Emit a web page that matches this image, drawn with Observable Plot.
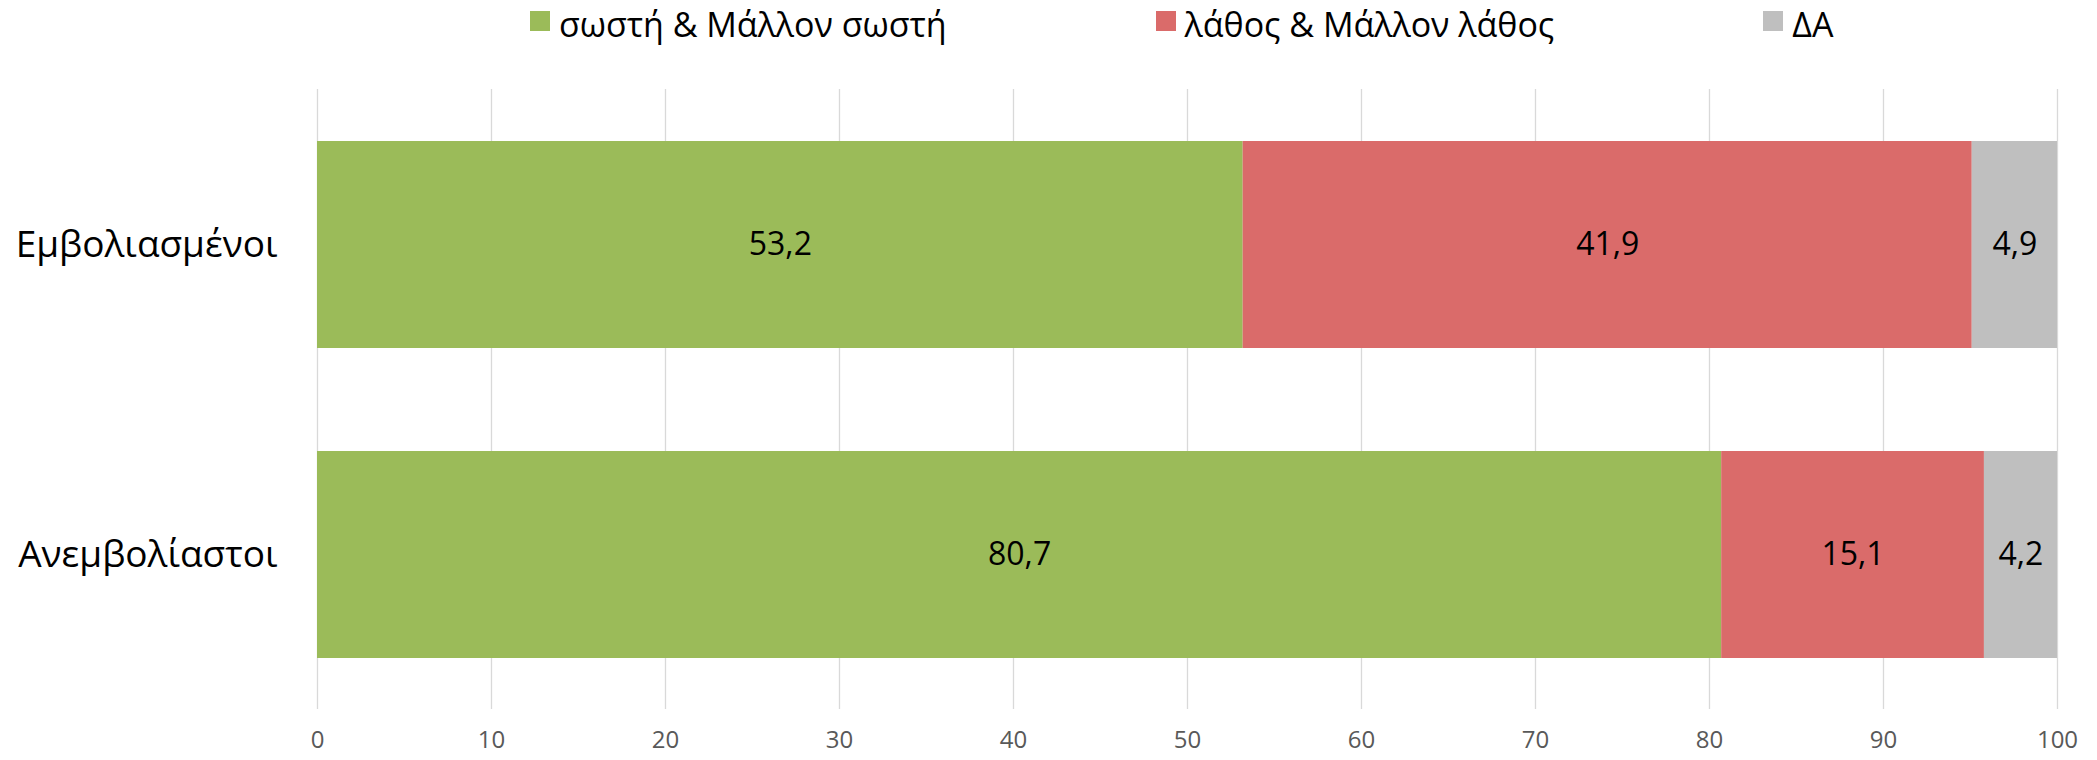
<!DOCTYPE html>
<html>
<head>
<meta charset="utf-8">
<script src="https://cdn.jsdelivr.net/npm/d3@7"></script>
<script src="https://cdn.jsdelivr.net/npm/@observablehq/plot@0.6"></script>
<style>
  html, body { margin: 0; padding: 0; background: #fff; }
  #wrap { position: relative; width: 2097px; height: 760px; font-family: "Open Sans", sans-serif; }
  #legend { position: absolute; left: 530px; top: 0; display: flex; gap: 209px; }
  .item { display: flex; align-items: flex-start; }
  .sw { width: 20px; height: 20px; margin-top: 11px; margin-right: 9px; }
  .lab { font-size: 34px; line-height: 34px; margin-top: 7px; color: #000; white-space: nowrap; }
  #chart { position: absolute; left: 0; top: 0; }
</style>
</head>
<body>
<div id="wrap">
  <div id="chart"></div>
  <div id="legend"></div>
</div>
<script>
const categories = ["Εμβολιασμένοι", "Ανεμβολίαστοι"];
const series = ["σωστή & Μάλλον σωστή", "λάθος & Μάλλον λάθος", "ΔΑ"];
const colors = ["#9BBB59", "#DA6B6A", "#BFBFBF"];
const correctValues = [53.2, 80.7];
const wrongValues = [41.9, 15.1];
const dkValues = [4.9, 4.2];
const xTicks = [0, 10, 20, 30, 40, 50, 60, 70, 80, 90, 100];

const seriesValues = [correctValues, wrongValues, dkValues];
const data = [];
categories.forEach((c, i) => {
  series.forEach((s, j) => {
    data.push({category: c, series: s, value: seriesValues[j][i]});
  });
});

const fmt = v => v.toFixed(1).replace(".", ",");

const chart = Plot.plot({
  width: 2097,
  height: 760,
  marginLeft: 317,
  marginRight: 40,
  marginTop: 89,
  marginBottom: 51,
  style: {fontFamily: "'Open Sans', sans-serif", background: "#fff"},
  x: {domain: [0, 100], axis: null},
  y: {domain: categories, paddingInner: 1/3, paddingOuter: 1/6, axis: null},
  color: {domain: series, range: colors},
  marks: [
    Plot.gridX(xTicks, {stroke: "#d9d9d9", strokeOpacity: 1, strokeWidth: 1.3}),
    Plot.barX(data, Plot.stackX({x: "value", y: "category", fill: "series", order: null})),
    Plot.text(data, Plot.stackX({x: "value", y: "category", z: "series", order: null, text: d => fmt(d.value), fontSize: 32, fill: "#000"})),
    Plot.axisX(xTicks, {tickSize: 0, tickPadding: 21, fontSize: 24, fill: "#595959", tickFormat: d => String(d), label: null}),
    Plot.axisY(categories, {tickSize: 0, tickPadding: 40, fontSize: 37, fill: "#000", label: null})
  ]
});
document.getElementById("chart").appendChild(chart);

const legend = document.getElementById("legend");
series.forEach((s, j) => {
  const item = document.createElement("div");
  item.className = "item";
  const sw = document.createElement("div");
  sw.className = "sw";
  sw.style.background = colors[j];
  const lab = document.createElement("div");
  lab.className = "lab";
  lab.textContent = s;
  item.appendChild(sw);
  item.appendChild(lab);
  legend.appendChild(item);
});
</script>
</body>
</html>
